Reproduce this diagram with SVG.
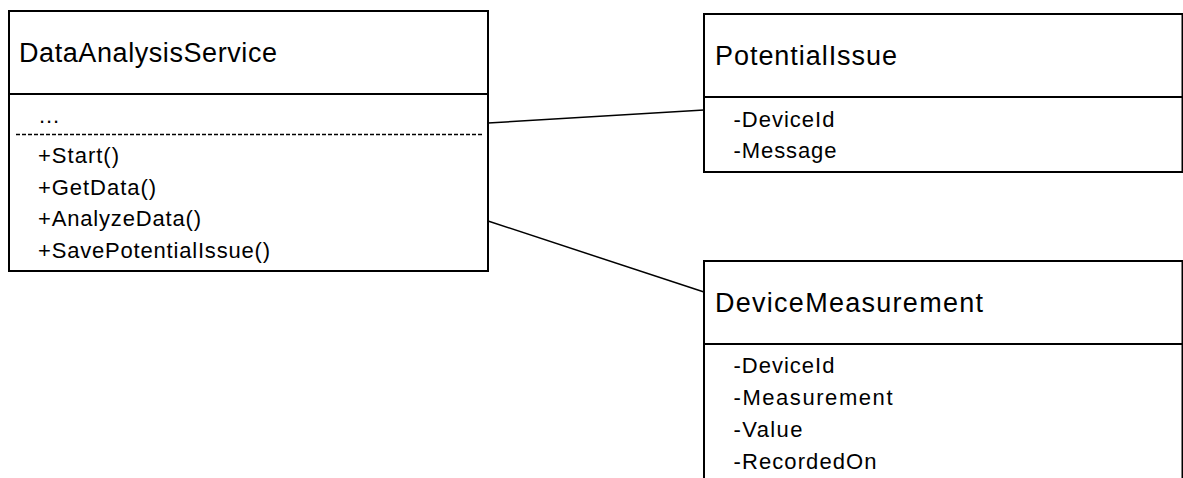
<svg xmlns="http://www.w3.org/2000/svg" width="1183" height="478" viewBox="0 0 1183 478">
  <style>
    .box { fill: #ffffff; stroke: #000000; stroke-width: 2; }
    .sep { stroke: #000000; stroke-width: 2; fill: none; }
    .dash { stroke: #000000; stroke-width: 1.5; stroke-dasharray: 4 2; fill: none; }
    .link { stroke: #000000; stroke-width: 1.5; fill: none; }
    .title { font-family: "Liberation Sans", Arial, sans-serif; font-size: 27px; fill: #000000; }
    .item { font-family: "Liberation Sans", Arial, sans-serif; font-size: 22px; fill: #000000; }
  </style>

  <rect width="1183" height="478" fill="#ffffff"/>

  <!-- associations -->
  <g id="connectors">
    <line class="link" x1="488" y1="123" x2="704" y2="110"/>
    <line class="link" x1="488" y1="221" x2="704" y2="292"/>
  </g>

  <!-- DataAnalysisService class -->
  <g id="DataAnalysisService">
    <rect class="box" x="9" y="11" width="479" height="260"/>
    <line class="sep" x1="9" y1="94" x2="488" y2="94"/>
    <line class="dash" x1="16" y1="134.5" x2="482" y2="134.5"/>
    <text class="title" x="19" y="62" textLength="258" lengthAdjust="spacing">DataAnalysisService</text>
    <text class="item" x="39" y="123" textLength="20" lengthAdjust="spacing">...</text>
    <text class="item" x="38" y="163" textLength="81" lengthAdjust="spacing">+Start()</text>
    <text class="item" x="38" y="194.5" textLength="118" lengthAdjust="spacing">+GetData()</text>
    <text class="item" x="38" y="226" textLength="163" lengthAdjust="spacing">+AnalyzeData()</text>
    <text class="item" x="38" y="257.5" textLength="232" lengthAdjust="spacing">+SavePotentialIssue()</text>
  </g>

  <!-- PotentialIssue class -->
  <g id="PotentialIssue">
    <rect class="box" x="704" y="14" width="478.5" height="158"/>
    <line class="sep" x1="704" y1="97" x2="1182.5" y2="97"/>
    <text class="title" x="715" y="65" textLength="182" lengthAdjust="spacing">PotentialIssue</text>
    <text class="item" x="733.5" y="127" textLength="101" lengthAdjust="spacing">-DeviceId</text>
    <text class="item" x="733.5" y="158" textLength="103" lengthAdjust="spacing">-Message</text>
  </g>

  <!-- DeviceMeasurement class -->
  <g id="DeviceMeasurement">
    <rect class="box" x="704" y="261" width="478.5" height="240"/>
    <line class="sep" x1="704" y1="344" x2="1182.5" y2="344"/>
    <text class="title" x="715" y="312" textLength="268" lengthAdjust="spacing">DeviceMeasurement</text>
    <text class="item" x="733.5" y="373" textLength="101" lengthAdjust="spacing">-DeviceId</text>
    <text class="item" x="733.5" y="405" textLength="159" lengthAdjust="spacing">-Measurement</text>
    <text class="item" x="733.5" y="437" textLength="69" lengthAdjust="spacing">-Value</text>
    <text class="item" x="733.5" y="469" textLength="143" lengthAdjust="spacing">-RecordedOn</text>
  </g>
</svg>
